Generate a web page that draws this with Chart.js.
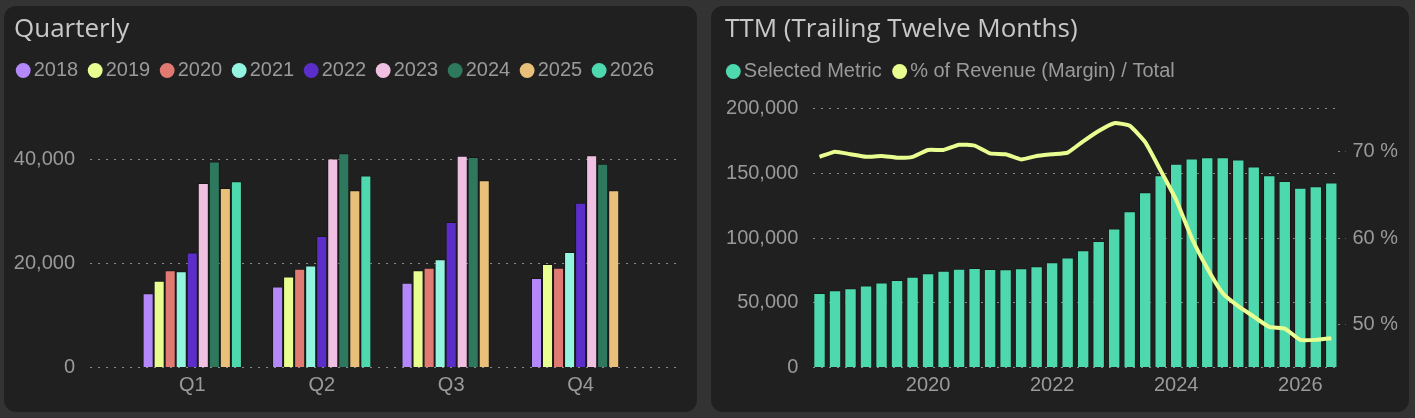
<!DOCTYPE html>
<html>
<head>
<meta charset="utf-8">
<title>Quarterly / TTM</title>
<script src="https://cdn.jsdelivr.net/npm/chart.js@4.4.0/dist/chart.umd.min.js"></script>
<style>
    html, body { margin: 0; padding: 0; width: 1415px; height: 418px; overflow: hidden; background: #333333; }
    .panel { position: absolute; top: 6px; height: 406px; background: #202020; border-radius: 12px; }
    #panelQuarterly { left: 4px; width: 693px; }
    #panelTtm { left: 711px; width: 698px; }
    .box { position: absolute; left: 0; top: 0; width: 100%; height: 100%; }
    .title { position: absolute; top: 8px; font: 26px "Open Sans", sans-serif; line-height: 26px; color: #c8c8c8; white-space: nowrap; }
</style>
</head>
<body>
<div class="panel" id="panelQuarterly">
    <div class="box"><canvas id="chartQuarterly"></canvas></div>
    <div class="title" style="left: 10px">Quarterly</div>
</div>
<div class="panel" id="panelTtm">
    <div class="box"><canvas id="chartTtm"></canvas></div>
    <div class="title" style="left: 14px">TTM (Trailing Twelve Months)</div>
</div>
<script>
// quarterly chart data
const quarters = ['Q1', 'Q2', 'Q3', 'Q4'];
const years = ['2018', '2019', '2020', '2021', '2022', '2023', '2024', '2025', '2026'];
const yearColors = ['#b487fa', '#e8fe91', '#e07a72', '#93f5e0', '#5b2ec9', '#f0c0e2', '#2e785e', '#e8c07a', '#4dd9ad'];
const q2018 = [14300, 15600, 16300, 17200];
const q2019 = [16700, 17500, 18700, 19900];
const q2020 = [18700, 19000, 19200, 19200];
const q2021 = [18500, 19600, 20800, 22200];
const q2022 = [22100, 25300, 28000, 31700];
const q2023 = [35500, 40200, 40700, 40800];
const q2024 = [39600, 41200, 40500, 39200];
const q2025 = [34500, 34100, 36000, 34100];
const q2026 = [35800, 36900, null, null];
const quarterlyByYear = [q2018, q2019, q2020, q2021, q2022, q2023, q2024, q2025, q2026];
const quarterlyTicks = [0, 20000, 40000];

// TTM chart data
const ttmPeriods = [
    '2018 Q1', '2018 Q2', '2018 Q3', '2018 Q4', '2019 Q1', '2019 Q2', '2019 Q3', '2019 Q4',
    '2020 Q1', '2020 Q2', '2020 Q3', '2020 Q4', '2021 Q1', '2021 Q2', '2021 Q3', '2021 Q4',
    '2022 Q1', '2022 Q2', '2022 Q3', '2022 Q4', '2023 Q1', '2023 Q2', '2023 Q3', '2023 Q4',
    '2024 Q1', '2024 Q2', '2024 Q3', '2024 Q4', '2025 Q1', '2025 Q2', '2025 Q3', '2025 Q4',
    '2026 Q1', '2026 Q2'
];
const ttmMetric = [
    57600, 59600, 61200, 63300, 65600, 67500, 70100, 72800,
    74700, 76300, 76800, 76100, 75900, 76600, 78200, 81200,
    85000, 90500, 97700, 107400, 120600, 135400, 148400, 157300,
    161300, 162400, 162300, 160600, 155300, 148400, 144000, 138800,
    139900, 142800
];
const ttmMargin = [
    69.4, 70.0, 69.7, 69.4, 69.5, 69.3, 69.4, 70.2,
    70.2, 70.8, 70.7, 69.8, 69.7, 69.1, 69.5, 69.7,
    69.9, 71.2, 72.4, 73.3, 73.0, 71.1, 67.8, 64.4,
    60.0, 56.5, 53.6, 52.1, 50.9, 49.7, 49.5, 48.2,
    48.2, 48.4
];
const ttmYearTicks = [2020, 2022, 2024, 2026];
const ttmMetricTicks = [0, 50000, 100000, 150000, 200000];
const ttmMarginTicks = [50, 60, 70];

const textFont = { family: 'Liberation Sans', size: 20 };
const textColor = '#9a9a9a';
const gridColor = '#8a8a8a';

// quarter end as a decimal year: '2019 Q4' -> 2020.0
function periodPosition(period) {
    var parts = period.split(' Q');
    return Number(parts[0]) + Number(parts[1]) / 4;
}

function useTicks(values) {
    return function (scale) {
        scale.ticks = values.map(function (v) { return { value: v }; });
    };
}

function fixWidth(width) {
    return function (scale) { scale.width = width; };
}

// extra room between the legend row and the plot
const legendGap = {
    id: 'legendGap',
    beforeInit: function (chart) {
        var fit = chart.legend.fit;
        chart.legend.fit = function () {
            fit.call(chart.legend);
            this.height += 17;
        };
    }
};

function legendOptions(padding) {
    return {
        position: 'top',
        align: 'start',
        labels: {
            usePointStyle: true,
            pointStyle: 'circle',
            boxWidth: 1,
            boxHeight: 10.5,
            padding: padding,
            color: textColor,
            font: textFont,
            generateLabels: function (chart) {
                return Chart.defaults.plugins.legend.labels.generateLabels(chart)
                    .map(function (item) { item.lineWidth = 0; return item; })
                    .sort(function (a, b) { return a.datasetIndex - b.datasetIndex; });
            }
        }
    };
}

new Chart(document.getElementById('chartQuarterly'), {
    type: 'bar',
    data: {
        datasets: years.map(function (year, i) {
            return {
                label: year,
                data: quarterlyByYear[i].map(function (v, q) { return { x: q + 1, y: v }; }),
                backgroundColor: yearColors[i],
                borderColor: 'rgba(0,0,0,0.3)',
                borderWidth: 1,
                categoryPercentage: 0.767,
                barPercentage: 1
            };
        })
    },
    options: {
        responsive: true,
        maintainAspectRatio: false,
        animation: false,
        events: [],
        layout: { padding: { top: 38, left: 2.2, right: 18, bottom: 8.5 } },
        plugins: {
            legend: legendOptions(16.5),
            tooltip: { enabled: false }
        },
        scales: {
            x: {
                type: 'linear',
                min: 0.21,
                max: 4.76,
                offset: false,
                afterBuildTicks: useTicks([1, 2, 3, 4]),
                grid: { display: false, drawTicks: false },
                border: { display: false },
                ticks: {
                    color: textColor, font: textFont, padding: 6, maxRotation: 0, autoSkip: false,
                    callback: function (v) { return quarters[v - 1]; }
                }
            },
            y: {
                min: 0,
                max: 50000,
                afterBuildTicks: useTicks(quarterlyTicks),
                afterFit: fixWidth(83.8),
                grid: { color: gridColor, lineWidth: 1, drawTicks: false },
                border: { display: false, dash: [2, 6] },
                ticks: { color: textColor, font: textFont, padding: 15 }
            }
        }
    },
    plugins: [legendGap]
});

new Chart(document.getElementById('chartTtm'), {
    type: 'bar',
    data: {
        datasets: [{
            type: 'bar',
            label: 'Selected Metric',
            data: ttmPeriods.map(function (p, i) { return { x: periodPosition(p), y: ttmMetric[i] }; }),
            backgroundColor: '#4dd9ad',
            borderColor: 'rgba(0,0,0,0.25)',
            borderWidth: 1,
            categoryPercentage: 0.8,
            barPercentage: 1,
            yAxisID: 'y',
            order: 2
        }, {
            type: 'line',
            label: '% of Revenue (Margin) / Total',
            data: ttmPeriods.map(function (p, i) { return { x: periodPosition(p), y: ttmMargin[i] }; }),
            borderColor: '#e8fe91',
            backgroundColor: '#e8fe91',
            borderWidth: 4,
            pointRadius: 0,
            tension: 0.15,
            yAxisID: 'pct',
            order: 1
        }]
    },
    options: {
        responsive: true,
        maintainAspectRatio: false,
        animation: false,
        events: [],
        layout: { padding: { top: 38, left: 4.3, right: 11.5, bottom: 8.5 } },
        plugins: {
            legend: legendOptions(17.5),
            tooltip: { enabled: false }
        },
        scales: {
            x: {
                type: 'linear',
                min: 2018.15,
                max: 2026.6,
                offset: false,
                afterBuildTicks: useTicks(ttmYearTicks),
                grid: { display: false, drawTicks: false },
                border: { display: false },
                ticks: {
                    color: textColor, font: textFont, padding: 6, maxRotation: 0, autoSkip: false,
                    callback: function (v) { return String(v); }
                }
            },
            y: {
                position: 'left',
                min: 0,
                max: 200000,
                afterBuildTicks: useTicks(ttmMetricTicks),
                afterFit: fixWidth(98),
                grid: { color: gridColor, lineWidth: 1, drawTicks: false },
                border: { display: false, dash: [2, 6] },
                ticks: { color: textColor, font: textFont, padding: 15 }
            },
            pct: {
                position: 'right',
                min: 45,
                max: 75,
                afterBuildTicks: useTicks(ttmMarginTicks),
                afterFit: fixWidth(60),
                grid: {
                    drawOnChartArea: false, drawTicks: true, tickLength: 8,
                    tickColor: gridColor, tickWidth: 1, tickBorderDash: [2, 5]
                },
                border: { display: false },
                ticks: {
                    color: textColor, font: textFont, padding: 7,
                    callback: function (v) { return v + ' %'; }
                }
            }
        }
    },
    plugins: [legendGap]
});
</script>
</body>
</html>
